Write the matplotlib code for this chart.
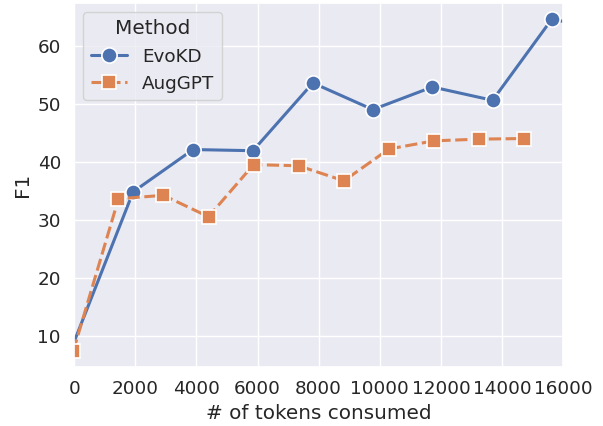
import numpy as np
import matplotlib
matplotlib.use("Agg")
import matplotlib.pyplot as plt
import seaborn as sns

# datos
evokd_tokens = [-100, 1930, 3890, 5850, 7810, 9770, 11720, 13690, 15640, 17600]
evokd_f1 = [7.6, 34.8, 42.1, 41.9, 53.6, 49.0, 52.9, 50.6, 64.7, 62.0]
auggpt_tokens = [-30, 1450, 2920, 4395, 5870, 7340, 8825, 10300, 11770, 13250, 14715]
auggpt_f1 = [7.3, 33.6, 34.2, 30.5, 39.5, 39.3, 36.7, 42.2, 43.6, 43.9, 44.0]

sns.set_theme(style="darkgrid", font_scale=1.2)
pal = sns.color_palette()

fig = plt.figure(figsize=(6.03, 4.26), dpi=100)
ax = fig.add_axes([0.123, 0.139, 0.811, 0.854])

ax.plot(evokd_tokens, evokd_f1, color=pal[0], lw=2.2, marker="o",
        markersize=11, markeredgecolor="white", markeredgewidth=1.2,
        label="EvoKD")
ax.plot(auggpt_tokens, auggpt_f1, color=pal[1], lw=2.2, marker="s",
        markersize=10, markeredgecolor="white", markeredgewidth=1.2,
        dashes=(4, 1.5), label="AugGPT")

ax.set_xlim(0, 16000)
ax.set_ylim(4.6, 67.4)
ax.set_xticks(np.arange(0, 16001, 2000))
ax.set_xlabel("# of tokens consumed")
ax.set_ylabel("F1")
ax.legend(title="Method", loc="upper left")

fig.savefig("out.png", dpi=100)
